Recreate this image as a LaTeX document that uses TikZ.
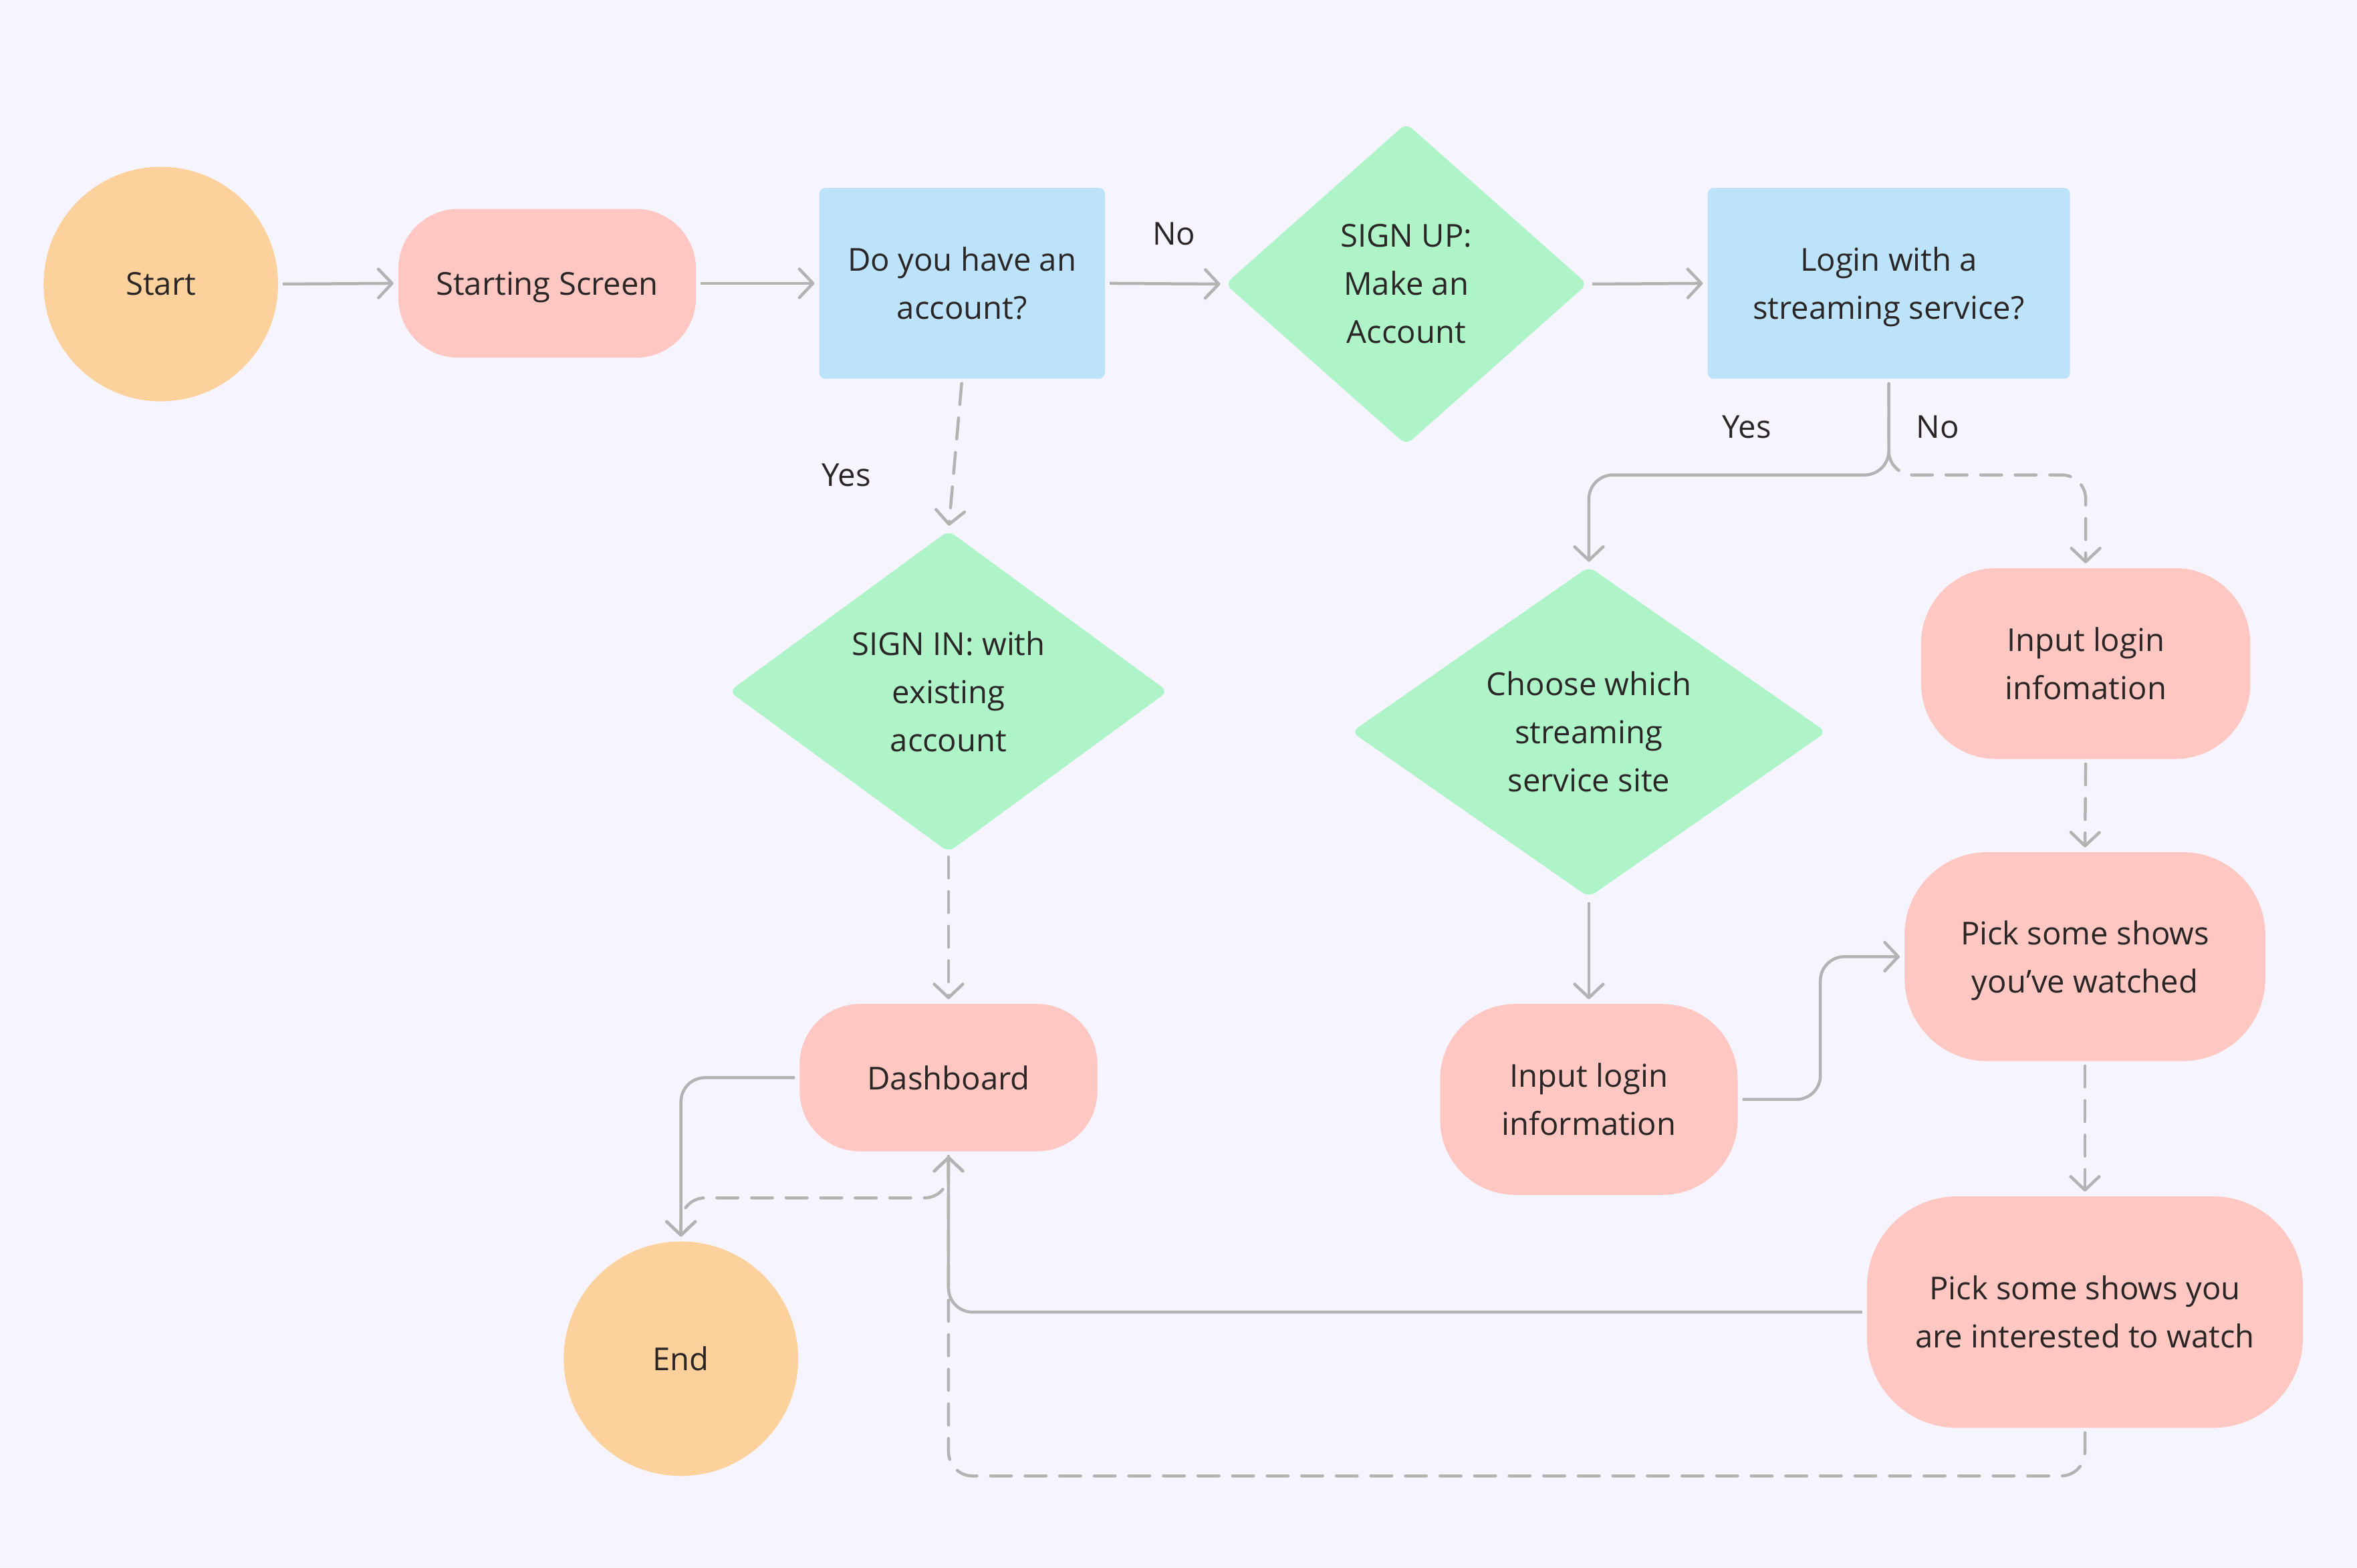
\documentclass[tikz,border=0pt]{standalone}
\usepackage{fontspec}
\setmainfont{Open Sans}
\usetikzlibrary{arrows.meta,shapes.geometric,calc}
\definecolor{bgC}{HTML}{F6F4FE}
\definecolor{orangeF}{HTML}{FCD19C}
\definecolor{pinkF}{HTML}{FFC7C2}
\definecolor{blueF}{HTML}{BDE3FB}
\definecolor{greenF}{HTML}{AEF4C8}
\definecolor{lineC}{HTML}{B3B3B3}
\definecolor{txtC}{HTML}{2A2626}
\newcommand\nodepth[1]{\raisebox{0pt}[\height][0pt]{#1}}
\begin{document}
\begin{tikzpicture}[x=1pt,y=1pt,
  every node/.style={font=\fontsize{21}{32}\selectfont, text=txtC, align=center, inner sep=0pt},
  term/.style={circle, fill=orangeF, minimum size=156pt},
  proc/.style={rectangle, fill=pinkF},
  ques/.style={rectangle, fill=blueF, rounded corners=4pt},
  dec/.style={diamond, fill=greenF, rounded corners=5pt},
  conn/.style={draw=lineC, line width=2pt, -{Straight Barb[length=9pt,width=19pt,line join=round,line cap=round]}, shorten <=3pt, shorten >=3pt},
  dconn/.style={conn, dash pattern=on 14pt off 9pt, line cap=round},
  lbl/.style={font=\fontsize{21}{32}\selectfont}
]
\fill[bgC] (0,0) rectangle (1568,-1043);
\useasboundingbox (0,0) rectangle (1568,-1043);

% nodes
\node[term] (start) at (107,-189) {Start};
\node[proc, minimum width=198pt, minimum height=99pt, rounded corners=40pt] (screen) at (364,-188.5) {\nodepth{Starting Screen}};
\node[ques, minimum width=190pt, minimum height=127pt] (doyou) at (640,-188.5) {Do you have an\\account?};
\node[dec, minimum width=241pt, minimum height=214pt] (signup) at (935.5,-189) {SIGN UP:\\Make an\\Account};
\node[ques, minimum width=241pt, minimum height=127pt] (login) at (1256.5,-188.5) {Login with a\\\nodepth{streaming service?}};
\node[dec, minimum width=292pt, minimum height=214pt] (signin) at (631,-460) {SIGN IN: with\\existing\\account};
\node[dec, minimum width=316pt, minimum height=220pt] (choose) at (1057,-487) {Choose which\\streaming\\service site};
\node[proc, minimum width=219pt, minimum height=127pt, rounded corners=50pt] (inputR) at (1387.5,-441.5) {Input login\\infomation};
\node[proc, minimum width=240pt, minimum height=139pt, rounded corners=55pt] (pickW) at (1387,-636.5) {Pick some shows\\\nodepth{you’ve watched}};
\node[proc, minimum width=198pt, minimum height=98pt, rounded corners=40pt] (dash) at (631,-717) {Dashboard};
\node[proc, minimum width=198pt, minimum height=127pt, rounded corners=50pt] (inputM) at (1057,-731.5) {Input login\\information};
\node[proc, minimum width=290pt, minimum height=154pt, rounded corners=60pt] (pickI) at (1387,-873) {Pick some shows you\\are interested to watch};
\node[term] (end) at (453,-904) {End};

% connectors
\draw[conn] (start.east) -- (screen.west);
\draw[conn] (screen.east) -- (doyou.west);
\draw[conn] (doyou.east) -- node[lbl, yshift=33pt, xshift=6pt] (lno1) {No} (signup.west);
\draw[conn] (signup.east) -- (login.west);
\draw[dconn] (doyou.south) -- (signin.north);
\node[lbl] (lyes1) at (563,-316) {Yes};

\draw[dconn, rounded corners=16pt] (login.south) -- (login.south |- 0,-316) -- (inputR.north |- 0,-316) -- (inputR.north);
\draw[conn, rounded corners=16pt] (login.south) -- (login.south |- 0,-316) -- (choose.north |- 0,-316) -- (choose.north);
\node[lbl] (lyes2) at (1162,-284) {Yes};
\node[lbl] (lno2) at (1289,-284) {No};

\draw[dconn] (signin.south) -- (dash.north);
\draw[conn] (choose.south) -- (inputM.north);
\draw[conn, rounded corners=16pt] (inputM.east) -- (1211,-731.5) -- (1211,-636.5) -- (pickW.west);
\draw[dconn] (inputR.south) -- (pickW.north);
\draw[dconn] (pickW.south) -- (pickI.north);

\draw[dconn, rounded corners=16pt] (pickI.south) -- (pickI.south |- 0,-982) -- (dash.south |- 0,-982) -- (dash.south);
\draw[conn, rounded corners=16pt] (pickI.west) -- (dash.south |- pickI.west) -- (dash.south);

\draw[conn, rounded corners=16pt] (dash.west) -- (end.north |- dash.west) -- (end.north);
\draw[dconn, rounded corners=16pt] (dash.south) -- (dash.south |- 0,-797) -- (end.north |- 0,-797) -- (end.north);
\end{tikzpicture}
\end{document}
